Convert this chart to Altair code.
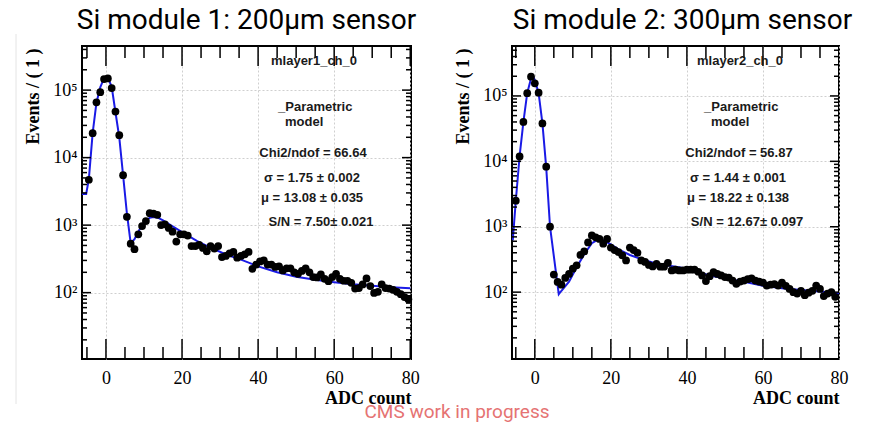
import altair as alt
import pandas as pd

# ---------------- data ----------------
# Left panel: Si module 1, 200 um sensor (bin centres, width 1)
L_ADC = [-4.5 + i for i in range(85)]
L_EVENTS = [
    4700, 23000, 66000, 93000, 146000, 149000, 107000, 48000, 21500, 5500,
    1330, 530, 440, 730, 970, 1150, 1500, 1480, 1420, 1000,
    1030, 910, 800, 570, 730, 730, 700, 490, 490, 510,
    460, 410, 490, 450, 490, 336, 350, 380, 400, 330,
    350, 370, 400, 225, 260, 290, 300, 260, 260, 240,
    245, 213, 229, 229, 200, 190, 210, 229, 200, 170,
    168, 186, 160, 148, 170, 190, 160, 150, 150, 140,
    115, 117, 132, 162, 125, 99, 103, 132, 117, 115,
    110, 103, 95, 86, 80,
]
L_FIT_ADC = [-6.3, -5.2, -4.5, -3.5, -2.5, -1.5, -0.5, 0, 0.5, 1.5,
             2.5, 3.5, 4.5, 5.5, 6.5, 7.5, 8.5, 9.5, 10.5, 11.5,
             12.5, 13.5, 15, 17, 20, 24, 28, 32, 36, 40,
             45, 50, 55, 60, 65, 70, 75, 80]
L_FIT_EVENTS = [2900, 2900, 4800, 23000, 65000, 110000, 150000, 155000, 152000, 113000,
                47000, 20000, 5500, 1500, 540, 620, 800, 1000, 1180, 1280,
                1320, 1300, 1180, 1000, 790, 580, 450, 360, 300, 245,
                200, 172, 155, 143, 133, 126, 120, 116]

# Right panel: Si module 2, 300 um sensor
R_ADC = [-5 + i for i in range(85)]
R_EVENTS = [
    2500, 11900, 40000, 110000, 197000, 156000, 112000, 38000, 8300, 1000,
    186, 143, 130, 165, 190, 228, 257, 370, 420, 575,
    735, 690, 650, 550, 650, 480, 440, 410, 365, 305,
    480, 440, 400, 305, 290, 260, 247, 270, 245, 245,
    280, 215, 220, 215, 215, 220, 220, 220, 205, 180,
    148, 175, 202, 190, 180, 170, 167, 150, 134, 145,
    150, 158, 163, 150, 145, 140, 126, 130, 133, 126,
    140, 125, 112, 100, 95, 105, 90, 98, 105, 126,
    112, 87, 95, 100, 85,
]
R_FIT_ADC = [-5.8, -5, -4, -3, -2, -1, -0.5, 0, 1, 2,
             3, 4, 6.3, 7, 9, 11, 13, 15, 16.5, 18,
             20, 22, 25, 28, 31, 35, 39, 43, 47, 52,
             56, 60, 65, 70, 75, 80]
R_FIT_EVENTS = [620, 2500, 12000, 40000, 110000, 185000, 200000, 175000, 110000, 38000,
                8000, 1000, 93, 105, 145, 240, 380, 560, 630, 620,
                540, 450, 370, 320, 285, 255, 235, 200, 175, 155,
                140, 125, 115, 108, 102, 96]

TITLES = ["Si module 1: 200\u03bcm sensor", "Si module 2: 300\u03bcm sensor"]
L_NOTES = ["mlayer1_ch_0", "Chi2/ndof = 66.64", "\u03c3 = 1.75 \u00b1 0.002",
           "\u03bc = 13.08 \u00b1 0.035", "S/N = 7.50\u00b1 0.021"]
R_NOTES = ["mlayer2_ch_0", "Chi2/ndof = 56.87", "\u03c3 = 1.44 \u00b1 0.001",
           "\u03bc = 18.22 \u00b1 0.138", "S/N = 12.67\u00b1 0.097"]

X_MAJOR = [0, 20, 40, 60, 80]
X_MINOR = [v for v in range(-5, 81, 5) if v % 20 != 0]
Y_MAJOR = [100, 1000, 10000, 100000]
Y_MINOR = [m * 10 ** k for k in range(1, 6) for m in range(2, 10)]

SERIF = "Liberation Serif"
SANS = "Liberation Sans"
BLUE = "#1a1ae6"

SUP = ("datum.value == 100 ? '10\u00b2' : datum.value == 1000 ? '10\u00b3' : "
       "datum.value == 10000 ? '10\u2074' : '10\u2075'")


def text_at(txt, x, y, align="center", size=13, font=SANS, weight="bold",
            color="#1a1a1a", baseline="middle"):
    return alt.Chart(pd.DataFrame({"t": [txt]})).mark_text(
        align=align, baseline=baseline, font=font, fontSize=size,
        fontWeight=weight, color=color
    ).encode(x=alt.value(x), y=alt.value(y), text="t:N")


def panel(adc, ev, fx, fy, xdom, ydom, title, title_dx, notes, W, H, extras):
    xs = alt.Scale(domain=xdom, nice=False, zero=False)
    ys = alt.Scale(type="log", domain=ydom, nice=False)
    xaxis = alt.Axis(values=X_MAJOR, grid=True, ticks=False, domain=False,
                     gridColor="#cfcfcf", gridDash=[2, 2],
                     labelFont=SERIF, labelFontSize=18, labelColor="black",
                     labelPadding=10, labelFlush=False, labelOverlap=False,
                     title="ADC count", titleFont=SERIF, titleFontSize=18,
                     titleFontWeight="bold", titleColor="black",
                     titleAlign="right", titleX=W, titleY=44,
                     titleBaseline="alphabetic")
    yaxis = alt.Axis(values=Y_MAJOR, grid=True, ticks=False, domain=False,
                     gridColor="#cfcfcf", gridDash=[2, 2],
                     labelExpr=SUP, labelFont=SERIF, labelFontSize=18,
                     labelColor="black", labelPadding=5, labelOverlap=False,
                     title="Events / ( 1 )", titleFont=SERIF, titleFontSize=18,
                     titleFontWeight="bold", titleColor="black",
                     titleX=-49, titleY=50, titleBaseline="middle",
                     titleAlign="center")

    X = lambda f: alt.X(f, scale=xs, axis=xaxis)
    Y = lambda f: alt.Y(f, scale=ys, axis=yaxis)

    pts = pd.DataFrame({"ADC": adc, "Events": ev})
    fit = pd.DataFrame({"ADC": fx, "Events": fy})

    xmaj = pd.DataFrame({"ADC": [v for v in X_MAJOR if xdom[0] < v < xdom[1]]})
    xmin = pd.DataFrame({"ADC": [v for v in X_MINOR if xdom[0] < v < xdom[1]]})
    ymaj = pd.DataFrame({"Events": [v for v in Y_MAJOR if ydom[0] < v < ydom[1]]})
    ymin = pd.DataFrame({"Events": [v for v in Y_MINOR if ydom[0] < v < ydom[1]]})

    def xt(df, y0, y1):
        return alt.Chart(df).mark_rule(color="black", strokeWidth=1.5).encode(
            x=X("ADC:Q"), y=alt.value(y0), y2=alt.value(y1))

    def yt(df, x0, x1):
        return alt.Chart(df).mark_rule(color="black", strokeWidth=1.5).encode(
            y=Y("Events:Q"), x=alt.value(x0), x2=alt.value(x1))

    ticks = [
        xt(xmaj, H, H - 20), xt(xmin, H, H - 12), xt(xmaj, 0, 20), xt(xmin, 0, 12),
        yt(ymaj, 0, 9), yt(ymin, 0, 5), yt(ymaj, W, W - 9), yt(ymin, W, W - 5),
    ]

    line = alt.Chart(fit).mark_line(color=BLUE, strokeWidth=2, clip=True).encode(
        x=X("ADC:Q"), y=Y("Events:Q"))
    dots = alt.Chart(pts).mark_circle(size=60, color="black", opacity=1).encode(
        x=X("ADC:Q"), y=Y("Events:Q"))
    head = text_at(title, W / 2 + title_dx, -17, size=28, font="Roboto", weight="normal",
                   color="black", baseline="alphabetic")

    layers = [line] + ticks + [dots] + notes + [head] + extras
    return alt.layer(*layers).properties(width=W, height=H)


def note_layers(notes, dx):
    return [
        text_at(notes[0], 232 + dx, 15),
        text_at("_Parametric", 196 + dx, 61, align="left"),
        text_at("model", 203 + dx, 76, align="left"),
        text_at(notes[1], 231 + dx, 107),
        text_at(notes[2], 230 + dx, 132),
        text_at(notes[3], 230 + dx, 152),
        text_at(notes[4], 239 + dx, 176),
    ]


edge = alt.Chart(pd.DataFrame({"a": [0]})).mark_rule(color="#e4e4e4", strokeWidth=1).encode(
    x=alt.value(-66), y=alt.value(-12), y2=alt.value(358))
stamp = text_at("CMS work in progress", 375, 366, size=19, font="Roboto",
                weight="normal", color="#e57373")

left = panel(L_ADC, L_EVENTS, L_FIT_ADC, L_FIT_EVENTS, [-6.3, 80.2], [10.4, 450000],
             TITLES[0], 0, note_layers(L_NOTES, 0), 329, 313, [edge, stamp])
right = panel(R_ADC, R_EVENTS, R_FIT_ADC, R_FIT_EVENTS, [-6.0, 80.0], [9.5, 580000],
              TITLES[1], 7, note_layers(R_NOTES, -4), 327, 313, [])

chart = alt.hconcat(left, right, spacing=101, bounds="flush").properties(
    padding={"left": 14, "top": 6, "right": 0, "bottom": 0},
    background="white",
).configure_view(stroke="black", strokeWidth=2)

chart.save("out.html", embed_options={"renderer": "svg", "actions": False})
